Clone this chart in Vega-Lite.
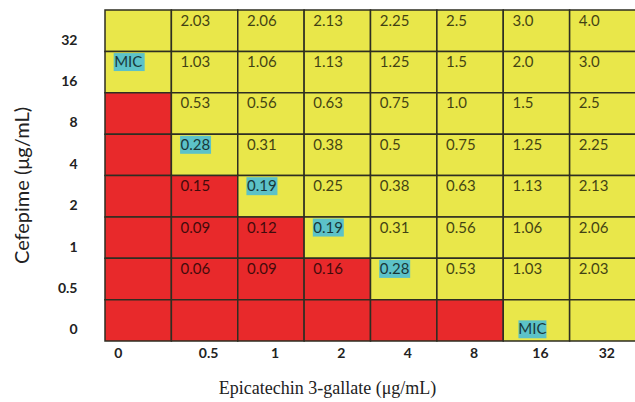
{
  "$schema": "https://vega.github.io/schema/vega-lite/v6.json",
  "autosize": "none",
  "padding": {"left": 105, "top": 10, "right": 0, "bottom": 61},
  "width": 531,
  "height": 331,
  "background": "white",
  "config": {"view": {"stroke": null}},
  "data": {"values": [
    {"ec": "0", "cef": "32", "v": "", "growth": "no", "hl": false},
    {"ec": "0.5", "cef": "32", "v": "2.03", "growth": "no", "hl": false},
    {"ec": "1", "cef": "32", "v": "2.06", "growth": "no", "hl": false},
    {"ec": "2", "cef": "32", "v": "2.13", "growth": "no", "hl": false},
    {"ec": "4", "cef": "32", "v": "2.25", "growth": "no", "hl": false},
    {"ec": "8", "cef": "32", "v": "2.5", "growth": "no", "hl": false},
    {"ec": "16", "cef": "32", "v": "3.0", "growth": "no", "hl": false},
    {"ec": "32", "cef": "32", "v": "4.0", "growth": "no", "hl": false},
    {"ec": "0", "cef": "16", "v": "MIC", "growth": "no", "hl": true},
    {"ec": "0.5", "cef": "16", "v": "1.03", "growth": "no", "hl": false},
    {"ec": "1", "cef": "16", "v": "1.06", "growth": "no", "hl": false},
    {"ec": "2", "cef": "16", "v": "1.13", "growth": "no", "hl": false},
    {"ec": "4", "cef": "16", "v": "1.25", "growth": "no", "hl": false},
    {"ec": "8", "cef": "16", "v": "1.5", "growth": "no", "hl": false},
    {"ec": "16", "cef": "16", "v": "2.0", "growth": "no", "hl": false},
    {"ec": "32", "cef": "16", "v": "3.0", "growth": "no", "hl": false},
    {"ec": "0", "cef": "8", "v": "", "growth": "yes", "hl": false},
    {"ec": "0.5", "cef": "8", "v": "0.53", "growth": "no", "hl": false},
    {"ec": "1", "cef": "8", "v": "0.56", "growth": "no", "hl": false},
    {"ec": "2", "cef": "8", "v": "0.63", "growth": "no", "hl": false},
    {"ec": "4", "cef": "8", "v": "0.75", "growth": "no", "hl": false},
    {"ec": "8", "cef": "8", "v": "1.0", "growth": "no", "hl": false},
    {"ec": "16", "cef": "8", "v": "1.5", "growth": "no", "hl": false},
    {"ec": "32", "cef": "8", "v": "2.5", "growth": "no", "hl": false},
    {"ec": "0", "cef": "4", "v": "", "growth": "yes", "hl": false},
    {"ec": "0.5", "cef": "4", "v": "0.28", "growth": "no", "hl": true},
    {"ec": "1", "cef": "4", "v": "0.31", "growth": "no", "hl": false},
    {"ec": "2", "cef": "4", "v": "0.38", "growth": "no", "hl": false},
    {"ec": "4", "cef": "4", "v": "0.5", "growth": "no", "hl": false},
    {"ec": "8", "cef": "4", "v": "0.75", "growth": "no", "hl": false},
    {"ec": "16", "cef": "4", "v": "1.25", "growth": "no", "hl": false},
    {"ec": "32", "cef": "4", "v": "2.25", "growth": "no", "hl": false},
    {"ec": "0", "cef": "2", "v": "", "growth": "yes", "hl": false},
    {"ec": "0.5", "cef": "2", "v": "0.15", "growth": "yes", "hl": false},
    {"ec": "1", "cef": "2", "v": "0.19", "growth": "no", "hl": true},
    {"ec": "2", "cef": "2", "v": "0.25", "growth": "no", "hl": false},
    {"ec": "4", "cef": "2", "v": "0.38", "growth": "no", "hl": false},
    {"ec": "8", "cef": "2", "v": "0.63", "growth": "no", "hl": false},
    {"ec": "16", "cef": "2", "v": "1.13", "growth": "no", "hl": false},
    {"ec": "32", "cef": "2", "v": "2.13", "growth": "no", "hl": false},
    {"ec": "0", "cef": "1", "v": "", "growth": "yes", "hl": false},
    {"ec": "0.5", "cef": "1", "v": "0.09", "growth": "yes", "hl": false},
    {"ec": "1", "cef": "1", "v": "0.12", "growth": "yes", "hl": false},
    {"ec": "2", "cef": "1", "v": "0.19", "growth": "no", "hl": true},
    {"ec": "4", "cef": "1", "v": "0.31", "growth": "no", "hl": false},
    {"ec": "8", "cef": "1", "v": "0.56", "growth": "no", "hl": false},
    {"ec": "16", "cef": "1", "v": "1.06", "growth": "no", "hl": false},
    {"ec": "32", "cef": "1", "v": "2.06", "growth": "no", "hl": false},
    {"ec": "0", "cef": "0.5", "v": "", "growth": "yes", "hl": false},
    {"ec": "0.5", "cef": "0.5", "v": "0.06", "growth": "yes", "hl": false},
    {"ec": "1", "cef": "0.5", "v": "0.09", "growth": "yes", "hl": false},
    {"ec": "2", "cef": "0.5", "v": "0.16", "growth": "yes", "hl": false},
    {"ec": "4", "cef": "0.5", "v": "0.28", "growth": "no", "hl": true},
    {"ec": "8", "cef": "0.5", "v": "0.53", "growth": "no", "hl": false},
    {"ec": "16", "cef": "0.5", "v": "1.03", "growth": "no", "hl": false},
    {"ec": "32", "cef": "0.5", "v": "2.03", "growth": "no", "hl": false},
    {"ec": "0", "cef": "0", "v": "", "growth": "yes", "hl": false},
    {"ec": "0.5", "cef": "0", "v": "", "growth": "yes", "hl": false},
    {"ec": "1", "cef": "0", "v": "", "growth": "yes", "hl": false},
    {"ec": "2", "cef": "0", "v": "", "growth": "yes", "hl": false},
    {"ec": "4", "cef": "0", "v": "", "growth": "yes", "hl": false},
    {"ec": "8", "cef": "0", "v": "", "growth": "yes", "hl": false},
    {"ec": "16", "cef": "0", "v": "MIC", "growth": "no", "hl": true},
    {"ec": "32", "cef": "0", "v": "", "growth": "no", "hl": false}
  ]},
  "encoding": {
    "x": {
      "field": "ec", "type": "ordinal",
      "scale": {"domain": ["0", "0.5", "1", "2", "4", "8", "16", "32"]},
      "axis": {
        "orient": "bottom", "domain": false, "ticks": false, "labelAngle": 0,
        "labelFont": "Lato", "labelFontSize": 14, "labelFontWeight": "bold", "labelColor": "#222",
        "labelPadding": 5, "labelBaseline": "top",
        "labelOffset": {"condition": {"test": "datum.value === '0'", "value": -20}, "value": 4},
        "title": "Epicatechin 3-gallate (μg/mL)",
        "titleFont": "Liberation Serif", "titleFontSize": 18, "titleFontWeight": "normal", "titleColor": "#222",
        "titleX": 222, "titleY": 47, "titleBaseline": "middle", "titleAlign": "center"
      }
    },
    "y": {
      "field": "cef", "type": "ordinal",
      "scale": {"domain": ["32", "16", "8", "4", "2", "1", "0.5", "0"]},
      "axis": {
        "domain": false, "ticks": false,
        "labelFont": "Lato", "labelFontSize": 14, "labelFontWeight": "bold", "labelColor": "#222",
        "labelPadding": 28, "labelOffset": 10,
        "title": "Cefepime (μg/mL)",
        "titleFont": "Lato", "titleFontSize": 20, "titleFontWeight": "normal", "titleColor": "#222",
        "titleX": -83, "titleY": 175, "titleBaseline": "middle", "titleAlign": "center", "titleAngle": -90
      }
    }
  },
  "layer": [
    {
      "mark": {"type": "rect", "stroke": "#2e2e22", "strokeWidth": 1.5},
      "encoding": {
        "color": {
          "field": "growth", "type": "nominal",
          "scale": {"domain": ["yes", "no"], "range": ["#e8292b", "#e9e74a"]},
          "legend": null
        }
      }
    },
    {
      "transform": [{"filter": "datum.hl && !(datum.ec === '16' && datum.cef === '0')"}],
      "mark": {"type": "point", "shape": "M-1,-0.58H1V0.58H-1Z", "size": 961, "filled": true, "opacity": 1, "color": "#5cc2c8", "strokeWidth": 0, "xOffset": -9, "yOffset": -10},
      "encoding": {}
    },
    {
      "transform": [{"filter": "datum.ec === '16' && datum.cef === '0'"}],
      "mark": {"type": "point", "shape": "M-1,-0.64H1V0.64H-1Z", "size": 784, "filled": true, "opacity": 1, "color": "#5cc2c8", "strokeWidth": 0, "xOffset": -4, "yOffset": 9},
      "encoding": {}
    },
    {
      "transform": [{"filter": "datum.v !== '' && !(datum.ec === '16' && datum.cef === '0')"}],
      "mark": {"type": "text", "align": "left", "baseline": "middle", "dx": -24, "dy": -10, "font": "Lato", "fontSize": 15, "color": "#000", "opacity": 0.72},
      "encoding": {"text": {"field": "v"}}
    },
    {
      "transform": [{"filter": "datum.ec === '16' && datum.cef === '0'"}],
      "mark": {"type": "text", "align": "center", "baseline": "middle", "dx": -4, "dy": 9, "font": "Lato", "fontSize": 15, "color": "#000", "opacity": 0.72},
      "encoding": {"text": {"field": "v"}}
    }
  ]
}
